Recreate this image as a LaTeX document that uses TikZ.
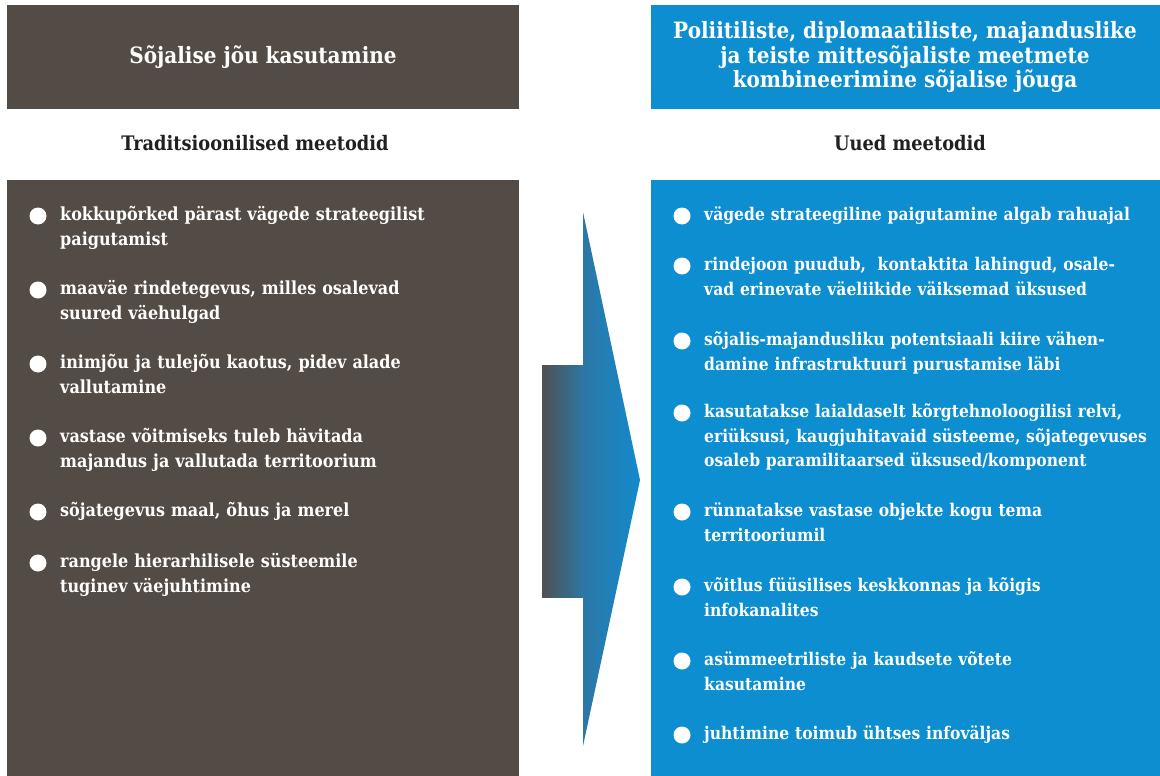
\documentclass[tikz,border=0pt]{standalone}
\usepackage{fontspec}
\newfontfamily\slab{DejaVu Serif}[FakeStretch=0.89]
\definecolor{panelbrown}{RGB}{83,76,70}
\definecolor{panelblue}{RGB}{12,142,208}
\definecolor{headink}{RGB}{35,31,32}
\definecolor{arrowgray}{RGB}{80,80,82}
\definecolor{arrowmid}{RGB}{44,119,166}
\definecolor{arrowblue}{RGB}{18,138,204}
\begin{document}
\begin{tikzpicture}[x=1pt,y=-1pt,
  panel/.style={anchor=north west, inner sep=0, outer sep=0, draw=none},
  titletext/.style={text=white, font=\slab\bfseries\fontsize{22.5}{24.5}\selectfont, align=center, inner sep=0},
  subhead/.style={text=headink, font=\slab\bfseries\fontsize{20}{22}\selectfont, inner sep=0},
  item/.style={anchor=base west, text=white, inner sep=0, text width=500pt, align=left, font=\slab\bfseries\fontsize{18}{24.5}\selectfont},
  ritem/.style={item, font=\slab\bfseries\fontsize{17.5}{24.5}\selectfont},
  dot/.style={circle, fill=white, minimum size=17pt, inner sep=0}]
\useasboundingbox (0,0) rectangle (1160,776);
\fill[white] (0,0) rectangle (1160,776);

% panels
\node[panel, fill=panelbrown, minimum width=512pt, minimum height=104pt] (lhead) at (7,5) {};
\node[panel, fill=panelblue, minimum width=509pt, minimum height=104pt] (rhead) at (651,5) {};
\node[panel, fill=panelbrown, minimum width=512pt, minimum height=596pt] (lbody) at (7,180) {};
\node[panel, fill=panelblue, minimum width=509pt, minimum height=596pt] (rbody) at (651,180) {};

% titles
\node[titletext] (ltitle) at (263,57) {Sõjalise jõu kasutamine};
\node[titletext] (rtitle) at (905,57) {Poliitiliste, diplomaatiliste, majanduslike\\ja teiste mittesõjaliste meetmete\\kombineerimine sõjalise jõuga};
\node[subhead] (lsub) at (255,143) {Traditsioonilised meetodid};
\node[subhead] (rsub) at (910,143) {Uued meetodid};

% arrow
\shade[left color=arrowgray, right color=arrowmid] (542,365) rectangle (584,597);
\shade[left color=arrowmid, right color=arrowblue] (583,212) -- (640,480) -- (583,746) -- cycle;

% left items
\node[dot] (ld1) at (38,216) {};
\node[item] (lt1) at (60,220.5) {kokkupõrked pärast vägede strateegilist\\paigutamist};
\node[dot] (ld2) at (38,290) {};
\node[item] (lt2) at (60,294.5) {maaväe rindetegevus, milles osalevad\\suured väehulgad};
\node[dot] (ld3) at (38,364) {};
\node[item] (lt3) at (60,368.5) {inimjõu ja tulejõu kaotus, pidev alade\\vallutamine};
\node[dot] (ld4) at (38,438) {};
\node[item] (lt4) at (60,442.5) {vastase võitmiseks tuleb hävitada\\majandus ja vallutada territoorium};
\node[dot] (ld5) at (38,512) {};
\node[item] (lt5) at (60,516.5) {sõjategevus maal, õhus ja merel};
\node[dot] (ld6) at (38,563) {};
\node[item] (lt6) at (60,567.5) {rangele hierarhilisele süsteemile\\tuginev väejuhtimine};

% right items
\node[dot] (rd1) at (682,216) {};
\node[ritem] (rt1) at (704,220.5) {vägede strateegiline paigutamine algab rahuajal};
\node[dot] (rd2) at (682,266) {};
\node[ritem] (rt2) at (704,270.5) {rindejoon puudub,~ kontaktita lahingud, osale-\\vad erinevate väeliikide väiksemad üksused};
\node[dot] (rd3) at (682,341) {};
\node[ritem] (rt3) at (704,345.5) {sõjalis-majandusliku potentsiaali kiire vähen-\\damine infrastruktuuri purustamise läbi};
\node[dot] (rd4) at (682,413) {};
\node[ritem] (rt4) at (704,417.5) {kasutatakse laialdaselt kõrgtehnoloogilisi relvi,\\eriüksusi, kaugjuhitavaid süsteeme, sõjategevuses\\osaleb paramilitaarsed üksused/komponent};
\node[dot] (rd5) at (682,512) {};
\node[ritem] (rt5) at (704,516.5) {rünnatakse vastase objekte kogu tema\\territooriumil};
\node[dot] (rd6) at (682,587) {};
\node[ritem] (rt6) at (704,591.5) {võitlus füüsilises keskkonnas ja kõigis\\infokanalites};
\node[dot] (rd7) at (682,661) {};
\node[ritem] (rt7) at (704,665.5) {asümmeetriliste ja kaudsete võtete\\kasutamine};
\node[dot] (rd8) at (682,735) {};
\node[ritem] (rt8) at (704,739.5) {juhtimine toimub ühtses infoväljas};
\end{tikzpicture}
\end{document}
